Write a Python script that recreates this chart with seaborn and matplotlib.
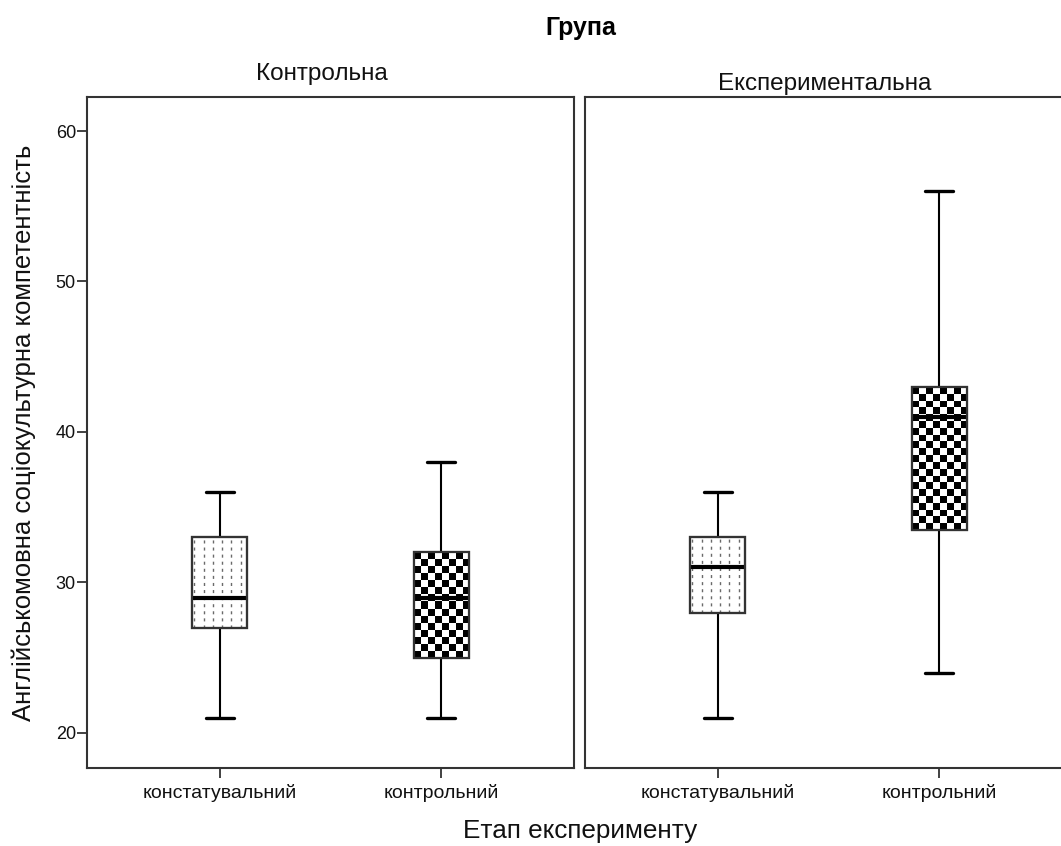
import numpy as np
import pandas as pd
import matplotlib
matplotlib.use('Agg')
import matplotlib.pyplot as plt
from matplotlib.patches import Rectangle
import seaborn as sns

# Five-number summaries (min, Q1, median, Q3, max)
STAGES = ['констатувальний', 'контрольний']
GROUPS = ['Контрольна', 'Експериментальна']
ctrl_const = [21, 27, 29, 33, 36]
ctrl_contr = [21, 25, 29, 32, 38]
exp_const = [21, 28, 31, 33, 36]
exp_contr = [24, 33.5, 41, 43, 56]
Y_TICKS = [20, 30, 40, 50, 60]

rows = []
for grp, series in zip(GROUPS, [[ctrl_const, ctrl_contr], [exp_const, exp_contr]]):
    for stage, vals in zip(STAGES, series):
        for v in vals:
            rows.append({'group': grp, 'stage': stage, 'score': v})
df = pd.DataFrame(rows)

sns.set_style('white')
plt.rcParams['font.family'] = ['Liberation Sans', 'DejaVu Sans']
plt.rcParams['text.color'] = '#111111'
plt.rcParams['xtick.color'] = '#111111'
plt.rcParams['ytick.color'] = '#111111'

W, H = 1061, 846
fig = plt.figure(figsize=(W / 100, H / 100), dpi=100)


def px_box(x0, y0, x1, y1):
    return [x0 / W, 1 - y1 / H, (x1 - x0) / W, (y1 - y0) / H]


ax_l = fig.add_axes(px_box(87, 97, 574, 768))
ax_r = fig.add_axes(px_box(585, 97, 1072, 768))

for ax, grp in zip([ax_l, ax_r], GROUPS):
    sub = df[df['group'] == grp]
    sns.boxplot(data=sub, x='stage', y='score', order=STAGES, ax=ax,
                whis=(0, 100), width=0.25, color='white', linecolor='black',
                linewidth=1.5, saturation=1,
                medianprops=dict(linewidth=3.0, color='black'),
                capprops=dict(linewidth=2.4))
    ax.set_xlim(-0.6, 1.6)
    ax.set_ylim(17.67, 62.26)
    ax.set_xlabel('')
    ax.set_ylabel('')
    for s in ax.spines.values():
        s.set_visible(True)
        s.set_color('#333333')
        s.set_linewidth(1.5)
    ax.tick_params(axis='x', direction='out', length=7.5, width=1.3,
                   color='#333333', labelsize=14, pad=4, bottom=True)
    for ln in ax.lines:
        ln.set_zorder(4)

    # pixel scale for the fill patterns
    t = ax.transData
    px_x = t.transform((1, 0))[0] - t.transform((0, 0))[0]
    px_y = t.transform((0, 1))[1] - t.transform((0, 0))[1]

    for i, patch in enumerate(list(ax.patches)):
        ext = patch.get_path().get_extents()
        x0, y0, x1, y1 = ext.x0, ext.y0, ext.x1, ext.y1
        if i == 0:
            # dotted vertical lines
            n = 6
            xs = x0 + (x1 - x0) * ((np.arange(n) + 0.25) / n)
            ax.vlines(xs, y0, y1, colors='#6a6a6a', linewidth=1.0,
                      linestyles=(0, (2.2, 2.9)), zorder=3)
        else:
            nx = max(1, int(round((x1 - x0) * px_x / 6.8)))
            ny = max(1, int(round((y1 - y0) * px_y / 6.8)))
            img = (np.indices((ny, nx)).sum(axis=0) % 2).astype(float)
            im = ax.imshow(img, cmap='gray', extent=(x0, x1, y0, y1),
                           origin='lower', interpolation='nearest',
                           aspect='auto', zorder=3)
            im.set_clip_path(patch)
        ax.add_patch(Rectangle((x0, y0), x1 - x0, y1 - y0, fill=False,
                               edgecolor='#333333', linewidth=1.6, zorder=4.5))
    ax.set_xlim(-0.6, 1.6)
    ax.set_ylim(17.67, 62.26)

ax_l.set_yticks(Y_TICKS)
ax_l.tick_params(axis='y', direction='out', length=7, width=1.3,
                 color='#333333', labelsize=13, pad=1, left=True)
ax_r.set_yticks([])

fig.text(581 / W, 1 - 35 / H, 'Група', ha='center', va='baseline',
         fontsize=18, fontweight='bold', color='black')
fig.text(322 / W, 1 - 80 / H, 'Контрольна', ha='center', va='baseline', fontsize=17.5)
fig.text(825 / W, 1 - 90 / H, 'Експериментальна', ha='center', va='baseline', fontsize=17.5)
fig.text(24 / W, 1 - 433 / H, 'Англійськомовна соціокультурна компетентність',
         ha='center', va='center', rotation=90, fontsize=18.5)
fig.text(580 / W, 1 - 838 / H, 'Етап експерименту', ha='center', va='baseline',
         fontsize=18.8)

fig.savefig('out.png', dpi=100)
